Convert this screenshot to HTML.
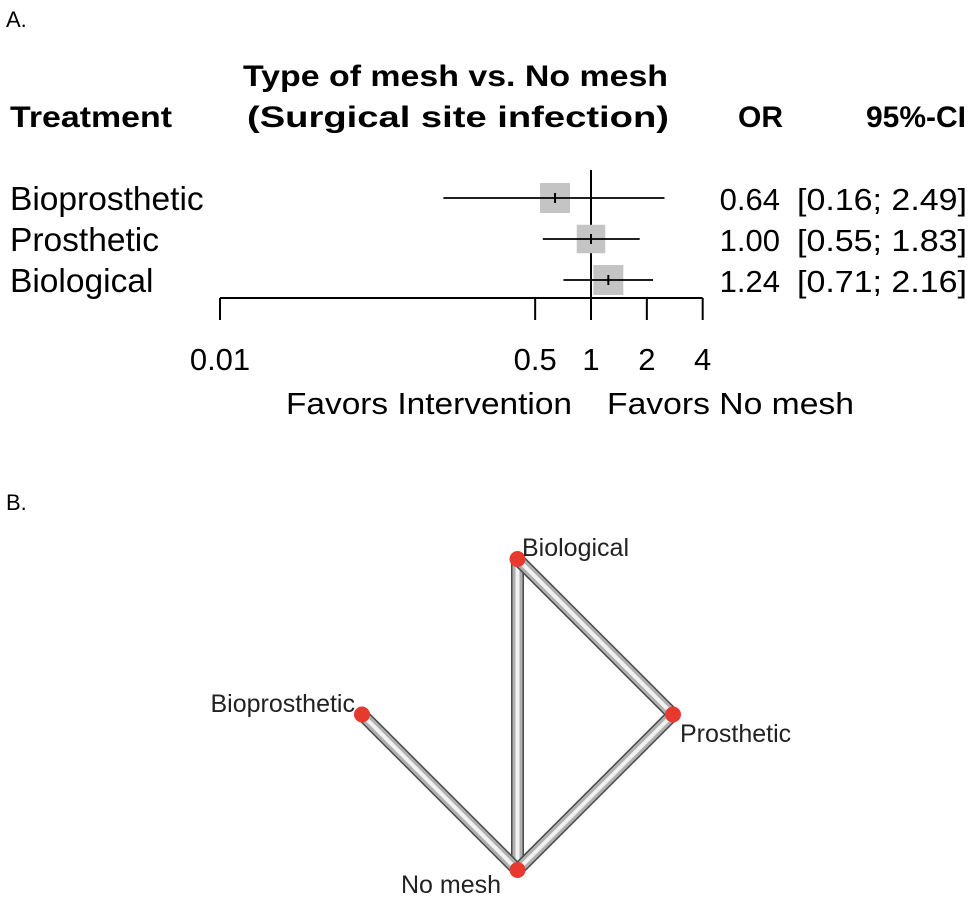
<!DOCTYPE html>
<html><head><meta charset="utf-8"><style>
body{margin:0;background:#fff;width:970px;height:900px;overflow:hidden;font-family:"Liberation Sans",Arial,sans-serif}
svg{display:block}
</style></head><body>
<svg width="970" height="900" xmlns="http://www.w3.org/2000/svg">
<script>
const treatments=["Bioprosthetic","Prosthetic","Biological"];
const orValues=[0.64,1.00,1.24];
const ciLow=[0.16,0.55,0.71];
const ciHigh=[2.49,1.83,2.16];
const weights=[1,0.95,1];
const tickValues=[0.01,0.5,1,2,4];
const tickLabels=["0.01","0.5","1","2","4"];
const nodeNames=["Biological","Prosthetic","Bioprosthetic","No mesh"];
const nodeX=[0.5,1,0,0.5];
const nodeY=[0,0.5,0.5,1];
const edges=[[0,3],[0,1],[1,3],[2,3]];
</script>
<text x="6" y="27" font-size="22">A.</text>
<text x="10" y="127" font-size="30" font-weight="bold" textLength="162" lengthAdjust="spacingAndGlyphs">Treatment</text>
<text x="243" y="86" font-size="30" font-weight="bold" textLength="425" lengthAdjust="spacingAndGlyphs">Type of mesh vs. No mesh</text>
<text x="247" y="127" font-size="30" font-weight="bold" textLength="422" lengthAdjust="spacingAndGlyphs">(Surgical site infection)</text>
<text x="783" y="127" font-size="30" font-weight="bold" text-anchor="end">OR</text>
<text x="966" y="127" font-size="30" font-weight="bold" text-anchor="end">95%-CI</text>
<g id="forest"></g>
<text x="6" y="510" font-size="22">B.</text>
<g id="net"></g>
<script>
(function(){
const ns="http://www.w3.org/2000/svg";
const g=document.getElementById('forest');
const x0=220,x1=591,pxDec=(x1-x0)/2;
const sx=v=>x1+Math.log10(v)*pxDec;
const rowY=i=>198+i*41;
function mk(t,a,p){const e=document.createElementNS(ns,t);for(const k in a)e.setAttribute(k,a[k]);(p||g).appendChild(e);return e;}
let ref=mk('line',{x1:sx(1),x2:sx(1),y1:170,y2:298,stroke:'#000','stroke-width':2});


treatments.forEach((t,i)=>{
 const y=rowY(i);
 let lb=mk('text',{x:10,y:y+12,'font-size':33.5});lb.textContent=t;
 
 
 const s=30*weights[i];
 let sq=mk('rect',{x:sx(orValues[i])-s/2,y:y-s/2,width:s,height:s,fill:'#c4c4c4'});
 
 
 let ci=mk('line',{x1:sx(ciLow[i]),x2:sx(ciHigh[i]),y1:y,y2:y,stroke:'#000','stroke-width':1.8});
 
 
 let pt=mk('line',{x1:sx(orValues[i]),x2:sx(orValues[i]),y1:y-5,y2:y+5,stroke:'#000','stroke-width':2});
 
 
 let ot=mk('text',{x:780,y:y+12,'font-size':31,'text-anchor':'end'});ot.textContent=orValues[i].toFixed(2);
 
 
 let ct=mk('text',{x:797,y:y+12,'font-size':31,textLength:170,lengthAdjust:'spacingAndGlyphs'});ct.textContent='['+ciLow[i].toFixed(2)+'; '+ciHigh[i].toFixed(2)+']';
 
 
});
let ax=mk('line',{x1:sx(tickValues[0]),x2:sx(tickValues[tickValues.length-1]),y1:298,y2:298,stroke:'#000','stroke-width':2});


tickValues.forEach((v,i)=>{
 let tk=mk('line',{x1:sx(v),x2:sx(v),y1:298,y2:320,stroke:'#000','stroke-width':2});
 
 
 let tl=mk('text',{x:sx(v),y:370,'font-size':31,'text-anchor':'middle'});tl.textContent=tickLabels[i];
 
 
});
let fl=mk('text',{x:572,y:414,'font-size':31,'text-anchor':'end',textLength:286,lengthAdjust:'spacingAndGlyphs'});fl.textContent='Favors Intervention';


let fr=mk('text',{x:607,y:414,'font-size':31,textLength:247,lengthAdjust:'spacingAndGlyphs'});fr.textContent='Favors No mesh';



const n=document.getElementById('net');
const nx=v=>362+v*311, ny=v=>559+v*311;
edges.forEach(e=>{
 const a=e[0],b=e[1];
 const c={x1:nx(nodeX[a]),y1:ny(nodeY[a]),x2:nx(nodeX[b]),y2:ny(nodeY[b])};
 let o=mk('line',Object.assign({stroke:'#4a4a4a','stroke-width':13},c),n);
 
 
 let m=mk('line',Object.assign({stroke:'#b0b0b0','stroke-width':10},c),n);
 
 
 let h=mk('line',Object.assign({stroke:'#f2f2f2','stroke-width':4},c),n);
 
 
});
const lp=[[522,556,'start'],[680,742,'start'],[355,712,'end'],[451,893,'middle']];
nodeNames.forEach((nm,i)=>{
 let c=mk('circle',{cx:nx(nodeX[i]),cy:ny(nodeY[i]),r:8,fill:'#e8392f'},n);
 
 
 let t=mk('text',{x:lp[i][0],y:lp[i][1],'font-size':25,'text-anchor':lp[i][2],fill:'#222'},n);t.textContent=nm;
 
 
});
})();
</script>
</svg>
</body></html>
